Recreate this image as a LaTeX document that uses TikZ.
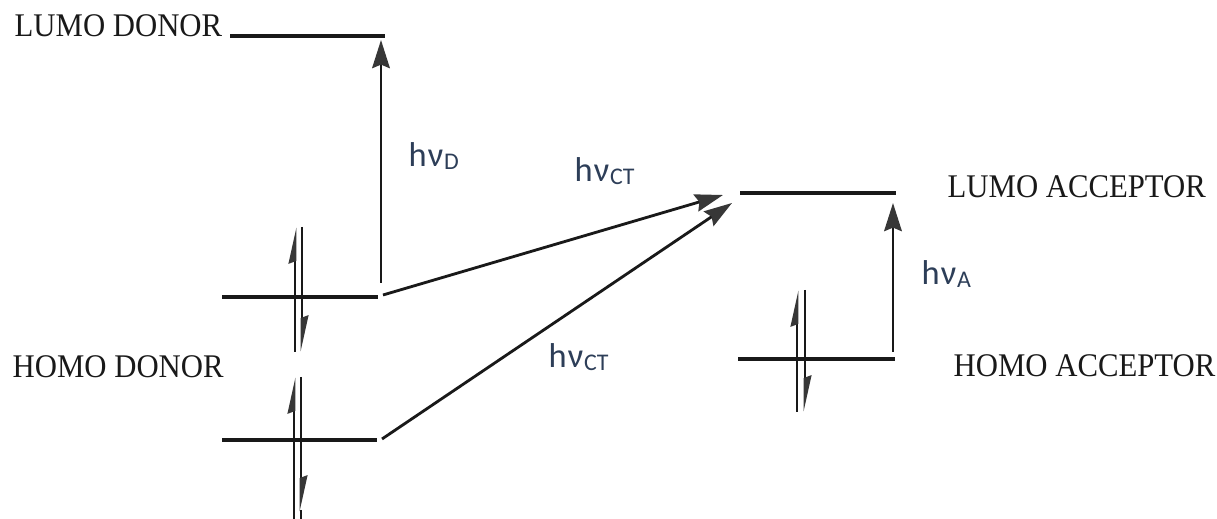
\documentclass[tikz,border=0pt]{standalone}
\usepackage{fontspec}
\setmainfont{Liberation Serif}
\newfontfamily\hvfont{Carlito}
\newfontfamily\lvlfont[FakeStretch=0.93]{Liberation Serif}
\usetikzlibrary{arrows.meta}
\definecolor{LevelGray}{RGB}{25,25,25}
\definecolor{TipGray}{RGB}{55,55,55}
\definecolor{PhotonBlue}{RGB}{45,62,88}
\newcommand{\hvsub}[1]{h\kern0.3pt ν\kern0.2pt\raisebox{-0.6pt}{\fontsize{6.8}{7}\selectfont #1}}

\begin{document}
\begin{tikzpicture}[
    x=0.01cm, y=-0.01cm,
    % ── styles ──
    level/.style  = {line width=1pt, draw=LevelGray},
    excite/.style = {-{Stealth[length=8pt, width=5pt, inset=1pt, color=TipGray]},
                     line width=0.8pt, draw=LevelGray},
    spin/.style   = {-{Stealth[harpoon, length=8.5pt, width=3.6pt, inset=0.6pt, color=TipGray]},
                     line width=0.8pt, draw=LevelGray},
    spinline/.style = {line width=0.8pt, draw=LevelGray},
    lvllbl/.style = {font=\lvlfont\fontsize{9.4}{11}\selectfont,
                     text=LevelGray, inner sep=0pt, anchor=base west},
    photon/.style = {font=\hvfont\fontsize{9.8}{11}\selectfont,
                     text=PhotonBlue, inner sep=0pt, anchor=base west},
]
\useasboundingbox (0,0) rectangle (1217,519);

% =====================================================================
%  DONOR side
% =====================================================================
\node[lvllbl] (lumoD-lbl) at (14,37) {LUMO DONOR};
\coordinate (lumoD-w) at (230,36);
\coordinate (lumoD-e) at (385,36);
\draw[level] (lumoD-w) -- (lumoD-e);

\node[lvllbl] (homoD-lbl) at (12,378) {HOMO DONOR};
\coordinate (homoD1-w) at (222,297);
\coordinate (homoD1-e) at (378,297);
\draw[level] (homoD1-w) -- (homoD1-e);
\coordinate (homoD2-w) at (222,440);
\coordinate (homoD2-e) at (377,440);
\draw[level] (homoD2-w) -- (homoD2-e);

% ── paired electrons
\draw[spin] (295,352) -- (295,227);
\draw[spin] (302,227) -- (302,352);
\draw[spin] (294,519) -- (294,377);
\draw[spin] (301,377) -- (301,512);
\draw[spinline] (301,510) -- (301,519);

% ── hv_D
\coordinate (exD-foot) at (381,283);
\coordinate (exD-tip)  at (381,40);
\draw[excite] (exD-foot) -- (exD-tip);
\node[photon] (hvD) at (408,167) {\hvsub{D}};

% =====================================================================
%  ACCEPTOR side
% =====================================================================
\node[lvllbl] (lumoA-lbl) at (947,198) {LUMO ACCEPTOR};
\coordinate (lumoA-w) at (740,193);
\coordinate (lumoA-e) at (896,193);
\draw[level] (lumoA-w) -- (lumoA-e);

\node[lvllbl] (homoA-lbl) at (953,377) {HOMO ACCEPTOR};
\coordinate (homoA-w) at (738,359);
\coordinate (homoA-e) at (895,359);
\draw[level] (homoA-w) -- (homoA-e);

% ── paired electrons
\draw[spin] (797,412) -- (797,290);
\draw[spin] (805,290) -- (805,412);

% ── hv_A
\coordinate (exA-foot) at (893,352);
\coordinate (exA-tip)  at (893,203);
\draw[excite] (exA-foot) -- (exA-tip);
\node[photon] (hvA) at (921,285) {\hvsub{A}};

% =====================================================================
%  CHARGE TRANSFER
% =====================================================================
\coordinate (ct1-tip) at (723,195);
\coordinate (ct2-tip) at (732,203);
\draw[excite] ([xshift=0.05cm,yshift=0.02cm]homoD1-e) -- (ct1-tip);
\draw[excite] ([xshift=0.05cm,yshift=0.01cm]homoD2-e) -- (ct2-tip);
\node[photon] (hvCT1) at (574,182) {\hvsub{CT}};
\node[photon] (hvCT2) at (548,368) {\hvsub{CT}};

\end{tikzpicture}
\end{document}
